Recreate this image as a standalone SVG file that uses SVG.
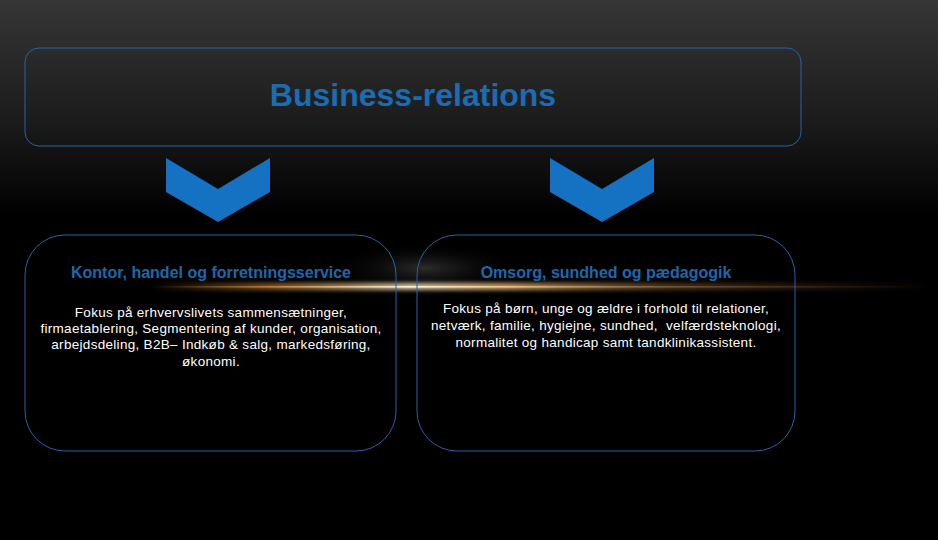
<svg xmlns="http://www.w3.org/2000/svg" width="938" height="540" viewBox="0 0 938 540">
<defs>
<linearGradient id="bg" x1="0" y1="0" x2="0" y2="1">
<stop offset="0" stop-color="#363636"/>
<stop offset="0.22" stop-color="#1c1c1c"/>
<stop offset="0.4" stop-color="#000"/>
<stop offset="1" stop-color="#000"/>
</linearGradient>
<radialGradient id="spot" cx="0.5" cy="0.5" r="0.5">
<stop offset="0" stop-color="#505050" stop-opacity="0.55"/>
<stop offset="1" stop-color="#000" stop-opacity="0"/>
</radialGradient>
<linearGradient id="line" x1="150" y1="0" x2="938" y2="0" gradientUnits="userSpaceOnUse">
<stop offset="0" stop-color="#c08030" stop-opacity="0"/>
<stop offset="0.15" stop-color="#d89040" stop-opacity="0.7"/>
<stop offset="0.33" stop-color="#fff0d0"/>
<stop offset="0.45" stop-color="#f0c080"/>
<stop offset="0.65" stop-color="#a07040" stop-opacity="0.6"/>
<stop offset="1" stop-color="#604020" stop-opacity="0"/>
</linearGradient>
<filter id="blur" x="-0.1" y="-5" width="1.2" height="11"><feGaussianBlur stdDeviation="2"/></filter>
</defs>
<style>
.box{fill:none;stroke:#2563a6;stroke-width:1}
.chev{fill:#1572c2}
.title{font-family:"Liberation Sans",Arial,sans-serif;font-weight:bold;font-size:32px;fill:#1a6db5;text-anchor:middle}
.head{font-family:"Liberation Sans",Arial,sans-serif;font-weight:bold;font-size:16px;fill:#1d68ad;text-anchor:middle}
.body{font-family:"Liberation Sans",Arial,sans-serif;font-size:13.5px;letter-spacing:0.3px;fill:#ffffff;text-anchor:middle}
</style>
<rect x="0" y="0" width="938" height="540" fill="url(#bg)"/>
<ellipse cx="425" cy="268" rx="100" ry="26" fill="url(#spot)"/>
<rect x="150" y="283" width="788" height="7" fill="url(#line)" filter="url(#blur)" opacity="0.8"/>
<rect x="150" y="286" width="788" height="1.6" fill="url(#line)"/>
<g id="connectors">
<polygon class="chev" points="166,158 218,189 270,158 270,192 218,222 166,192"/>
<polygon class="chev" points="550,158 602,189 654,158 654,192 602,222 550,192"/>
</g>
<g id="business-relations">
<rect class="box" x="25" y="48" width="776" height="98" rx="14"/>
<text class="title" x="413" y="106">Business-relations</text>
</g>
<g id="kontor">
<rect class="box" x="25" y="235" width="371" height="216" rx="40"/>
<text class="head" x="211" y="278">Kontor, handel og forretningsservice</text>
<text class="body" x="211" y="317">Fokus på erhvervslivets sammensætninger,</text>
<text class="body" x="211" y="333">firmaetablering, Segmentering af kunder, organisation,</text>
<text class="body" x="211" y="349">arbejdsdeling, B2B– Indkøb &amp; salg, markedsføring,</text>
<text class="body" x="211" y="366">økonomi.</text>
</g>
<g id="omsorg">
<rect class="box" x="417" y="235" width="378" height="216" rx="40"/>
<text class="head" x="606" y="278">Omsorg, sundhed og pædagogik</text>
<text class="body" x="606" y="313">Fokus på børn, unge og ældre i forhold til relationer,</text>
<text class="body" x="606" y="330" xml:space="preserve">netværk, familie, hygiejne, sundhed,  velfærdsteknologi,</text>
<text class="body" x="606" y="347">normalitet og handicap samt tandklinikassistent.</text>
</g>
</svg>
